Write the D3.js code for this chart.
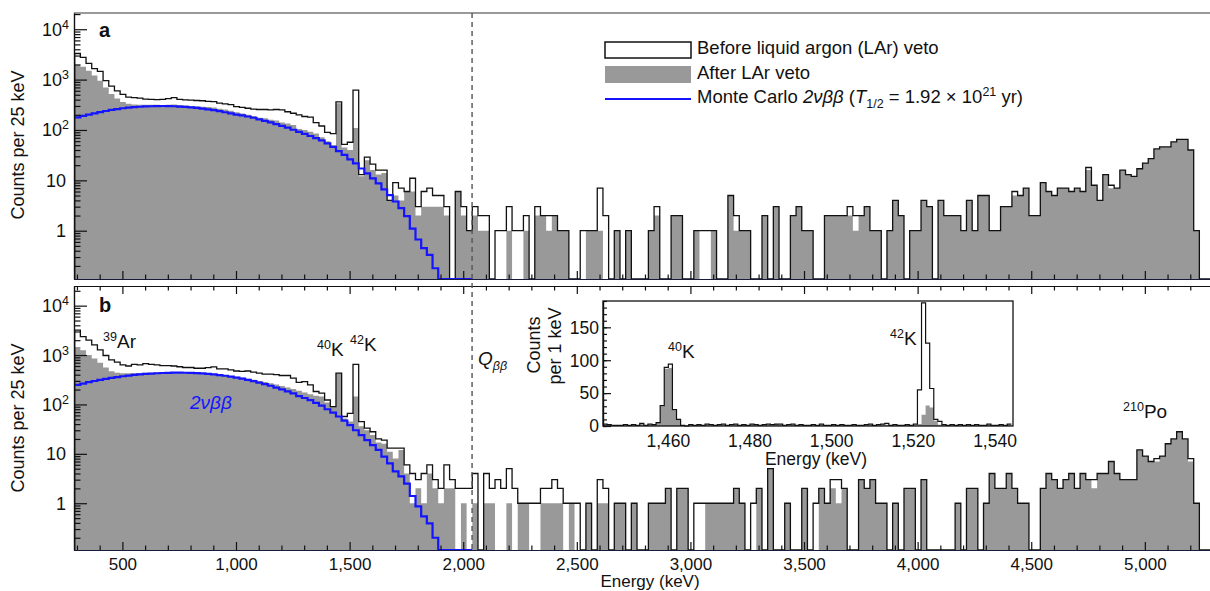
<!DOCTYPE html>
<html>
<head>
<meta charset="utf-8">
<title>Energy spectra before and after LAr veto</title>
<script src="https://d3js.org/d3.v7.min.js"></script>
<style>
  body { margin: 0; background: #fff; }
  svg text { font-family: "Liberation Sans", Arial, sans-serif; fill: #111; }
  .axis path, .axis line { stroke: #111; stroke-width: 1.2; }
  .axis.navy path { stroke: #1a1a3c; }
</style>
</head>
<body>
<div id="chart"></div>
<script>
// histogram binning (keV)
const binStart = 290, binWidth = 25;

// panel a: counts per 25 keV
const beforeA = [3300,2750,2100,1650,1450,950,740,600,510,450,
  440,430,410,405,400,405,420,440,405,395,
  390,385,380,370,365,340,330,320,290,280,
  270,260,255,255,250,255,250,230,215,200,
  185,180,140,120,90,85,360,52,57,620,
  13,29,21,16,16,4,9,7,6,11,
  3,6,7,5,5,3,0,6,3,1,
  3,2,2,0,1,1,3,1,1,2,
  0,3,2,2,2,1,1,0,0,1,
  1,1,7,2,0,1,0,1,0,0,
  0,1,3,0,0,2,2,0,0,1,
  1,1,1,0,0,5,2,1,1,0,
  0,2,0,3,0,0,2,3,1,1,
  0,0,2,2,2,2,3,2,2,3,
  1,1,0,1,4,2,0,1,1,4,
  3,0,4,2,2,2,1,4,1,5,
  5,1,1,3,3,6,5,7,2,2,
  9,6,5,7,7,6,7,6,18,8,
  4,13,8,7,16,13,12,17,22,27,
  42,46,46,58,65,65,40,1,0,0];

const afterA = [1950,1800,1500,1200,950,700,520,420,360,330,
  320,315,315,315,315,312,318,320,312,305,
  300,295,290,285,278,265,255,240,225,212,
  200,190,175,170,160,155,140,135,125,105,
  100,92,85,72,60,50,340,45,40,110,
  12,25,16,13,14,4,5,4,6,6,
  2,3,3,3,3,2,0,6,2,1,
  2,1,1,0,0,0,1,0,0,1,
  0,2,2,1,2,1,1,0,0,0,
  1,1,1,0,0,1,0,1,0,0,
  0,1,2,0,0,2,2,0,0,1,
  0,0,1,0,0,5,1,1,1,0,
  0,2,0,3,0,0,2,3,1,1,
  0,0,2,2,2,2,2,1,2,3,
  1,1,0,1,4,2,0,1,1,4,
  3,0,4,2,2,2,1,4,1,5,
  5,1,1,3,3,5,5,7,2,2,
  9,6,5,7,7,6,7,6,16,8,
  4,13,7,7,16,13,12,17,22,27,
  42,46,46,58,65,65,40,1,0,0];

const mcA = [178,190,202,214,226,238,250,260,270,278,
  284,289,293,296,298,299,298,296,292,287,
  281,274,266,257,247,236,225,213,201,195,
  185,175,163,152,142,131,121,111,101,92,
  84,76,69,62,54,46,38,32,26,21.7,
  17.2,13.7,10.9,8.7,6.6,5.1,3.8,2.8,1.95,1.1,
  0.67,0.45,0.33,0.18,0,0,0,0,0,0];

// panel b: counts per 25 keV
const beforeB = [3200,2350,2000,1600,1270,980,800,720,630,600,
  650,630,670,650,630,610,610,600,580,560,
  560,540,540,555,575,525,525,500,475,465,
  475,450,430,410,410,400,385,385,340,280,
  290,250,183,170,123,90,430,57,66,650,
  45,33,28,20,19,13,13,13,6,4,
  3,4,6,3,2,6,3,2,2,2,
  4,0,4,2,3,2,5,2,1,1,
  1,1,2,2,3,2,1,1,1,0,
  1,0,3,2,0,1,1,0,1,0,
  0,1,1,1,2,0,2,2,0,1,
  1,1,1,1,1,1,2,1,0,1,
  2,0,5,0,0,1,0,0,2,0,
  1,2,1,3,3,2,0,0,3,2,
  3,1,1,0,1,0,2,2,0,3,
  0,0,0,0,0,1,0,2,2,0,
  1,4,2,2,4,2,1,1,0,0,
  2,4,3,2,3,4,2,4,3,3,
  4,4,7,4,3,3,3,12,9,7,
  8,9,16,20,28,20,8,1,0,0];

const afterB = [1450,1250,1000,850,700,560,470,440,430,430,
  432,435,440,440,442,445,445,445,442,440,
  435,430,425,418,410,400,388,375,362,348,
  332,318,300,285,268,252,236,220,205,190,
  175,160,150,145,110,90,430,52,45,145,
  36,30,24,17,16,11,8,12,4,1,
  2,1,4,2,1,2,2,0,1,0,
  1,0,1,1,0,0,1,0,1,1,
  0,0,1,1,1,1,0,1,0,0,
  1,0,1,1,0,1,1,0,1,0,
  0,1,1,1,2,0,2,2,0,0,
  0,1,1,1,1,1,2,1,0,0,
  2,0,5,0,0,1,0,0,2,0,
  0,2,1,2,1,2,0,0,3,2,
  3,1,1,0,1,0,2,2,0,3,
  0,0,0,0,0,1,0,2,2,0,
  1,4,2,2,4,2,1,1,0,0,
  2,4,3,2,3,4,2,4,3,2,
  4,4,7,4,3,3,3,12,9,7,
  7,9,16,20,28,20,7,1,0,0];

const mcB = [250,265,282,298,314,330,345,358,372,384,
  395,405,414,422,428,433,437,439,440,438,
  435,430,424,416,406,394,381,366,350,333,
  315,296,277,258,239,220,202,184,167,148,
  135,122,108,95,80,68,57,47,38,30,
  24,19,15,12,8.8,6.4,4.4,3.5,2.5,1.4,
  0.86,0.54,0.39,0.2,0,0,0,0,0,0];

// inset: counts per 1 keV from 1444 keV
const insetStart = 1444;
const insetBefore = [3,2,1,1,1,2,1,2,1,4,
  1,3,2,5,31,89,94,25,10,1,
  0,2,1,2,1,3,2,1,2,3,
  1,2,3,1,2,1,3,2,1,2,
  3,2,3,3,1,2,3,1,2,1,
  1,2,1,3,1,1,2,1,2,1,
  1,2,1,1,2,3,1,2,3,4,
  1,2,1,1,2,1,3,55,187,126,
  57,10,7,2,1,2,1,2,1,2,
  1,2,1,1,3,1,1,2,1,3];
const insetAfter = [2,2,1,1,1,1,1,2,1,3,
  1,2,2,5,30,87,88,24,9,1,
  0,1,1,2,1,2,1,1,2,2,
  1,1,2,1,2,1,2,2,1,2,
  2,1,3,2,1,1,2,1,1,1,
  1,1,1,2,1,0,1,1,1,1,
  1,1,1,1,1,2,1,1,2,2,
  1,1,1,0,1,1,1,3,17,31,
  28,8,2,1,1,1,1,1,1,1,
  1,1,1,1,2,1,1,1,1,2];

const xMajor = [500,1000,1500,2000,2500,3000,3500,4000,4500,5000];
const xMinor = d3.range(300, 5301, 100).filter(v => v % 500 !== 0);
const yLabelValues = [1, 10, 100, 1000, 10000];
const insetXTicks = [1460, 1480, 1500, 1520, 1540];
const insetYTicks = [0, 50, 100, 150];
const qbb = 2039;

const svg = d3.select("#chart").append("svg")
  .attr("width", 1210).attr("height", 591);

const x = d3.scaleLinear().domain([287, 5300]).range([74, 1213]);
const yA = d3.scaleLog().domain([0.11, 21000]).range([279, 13]).clamp(true);
const yB = d3.scaleLog().domain([0.113, 25000]).range([550, 286]).clamp(true);

function steps(vals, start, width) {
  const pts = [];
  vals.forEach((v, i) => {
    const e = start + i * width;
    pts.push([e, v], [e + width, v]);
  });
  return pts;
}

const defs = svg.append("defs");

function drawPanel(y, before, after, mc, id) {
  const bottom = y.range()[0], top = y.range()[1];
  const yv = v => v > 0 ? y(v) : bottom;
  defs.append("clipPath").attr("id", id)
    .append("rect").attr("x", 74).attr("y", top).attr("width", 1140).attr("height", bottom - top);
  const g = svg.append("g").attr("clip-path", `url(#${id})`);

  g.append("path")
    .datum(steps(after, binStart, binWidth))
    .attr("fill", "#999")
    .attr("d", d3.area().x(d => x(d[0])).y0(bottom).y1(d => yv(d[1])));

  const outline = [[binStart, 0], ...steps(before, binStart, binWidth), [binStart + before.length * binWidth, 0]];
  g.append("path")
    .datum(outline)
    .attr("fill", "none").attr("stroke", "#111").attr("stroke-width", 1.3)
    .attr("d", d3.line().x(d => x(d[0])).y(d => yv(d[1])));

  g.append("path")
    .datum(steps(mc, binStart, binWidth))
    .attr("fill", "none").attr("stroke", "#1414ff").attr("stroke-width", 2.2)
    .attr("d", d3.line().x(d => x(d[0])).y(d => yv(d[1])));
}

drawPanel(yA, beforeA, afterA, mcA, "clipA");
drawPanel(yB, beforeB, afterB, mcB, "clipB");

// x axes: ticks pointing into each panel
function xTicks(yPos, dir, cls, labels) {
  svg.append("g").attr("class", "axis " + cls).attr("transform", `translate(0,${yPos})`)
    .call(d3.axisBottom(x).tickValues(xMinor).tickSize(4.5 * dir).tickSizeOuter(0).tickFormat(""));
  const major = svg.append("g").attr("class", "axis " + cls).attr("transform", `translate(0,${yPos})`)
    .call(d3.axisBottom(x).tickValues(xMajor).tickSize(8 * dir).tickSizeOuter(0)
      .tickPadding(8)
      .tickFormat(labels ? d3.format(",") : ""));
  major.selectAll("text").attr("font-size", 17).attr("fill", "#111");
}
xTicks(279, -1, "navy", false);
xTicks(286, 1, "", false);
xTicks(550, -1, "navy", true);

// panel a top frame
svg.append("line").attr("x1", 74).attr("x2", 1210).attr("y1", 13).attr("y2", 13)
  .attr("stroke", "#777").attr("stroke-width", 1.3);

function yAxis(y) {
  const [lo, hi] = y.domain();
  const minor = [], major = [];
  for (let k = -1; k <= 4; k++) {
    for (let m = 1; m <= 9; m++) {
      const v = m * Math.pow(10, k);
      if (v >= lo && v <= hi) (m === 1 ? major : minor).push(v);
    }
  }
  svg.append("g").attr("class", "axis").attr("transform", "translate(74,0)")
    .call(d3.axisLeft(y).tickValues(minor).tickSize(-6.5).tickSizeOuter(0).tickFormat(""));
  svg.append("g").attr("class", "axis").attr("transform", "translate(74,0)")
    .call(d3.axisLeft(y).tickValues(major).tickSize(-13).tickSizeOuter(0).tickFormat(""));

  yLabelValues.forEach(v => {
    const t = svg.append("text").attr("y", y(v)).attr("dy", "0.36em")
      .attr("text-anchor", "end").attr("font-size", 18);
    if (v < 100) {
      t.attr("x", 66).text(v);
    } else {
      t.attr("x", 69);
      t.append("tspan").text("10");
      t.append("tspan").attr("font-size", 12.5).attr("dy", -7).text(Math.round(Math.log10(v)));
    }
  });
}
yAxis(yA);
yAxis(yB);

// axis titles
function yTitle(cy) {
  svg.append("text").attr("transform", `translate(24,${cy}) rotate(-90)`)
    .attr("text-anchor", "middle").attr("font-size", 18).text("Counts per 25 keV");
}
yTitle(145);
yTitle(418);
svg.append("text").attr("x", 650).attr("y", 587).attr("text-anchor", "middle")
  .attr("font-size", 17).text("Energy (keV)");

// panel letters
svg.append("text").attr("x", 99).attr("y", 37).attr("font-size", 20).attr("font-weight", "bold").text("a");
svg.append("text").attr("x", 99).attr("y", 312).attr("font-size", 20).attr("font-weight", "bold").text("b");

// Q_bb line
svg.append("line").attr("x1", x(qbb)).attr("x2", x(qbb)).attr("y1", 13).attr("y2", 550)
  .attr("stroke", "#555").attr("stroke-width", 1.4).attr("stroke-dasharray", "5,4");

// legend
svg.append("rect").attr("x", 605).attr("y", 42).attr("width", 86).attr("height", 16)
  .attr("fill", "#fff").attr("stroke", "#111").attr("stroke-width", 1.5);
svg.append("rect").attr("x", 605).attr("y", 66).attr("width", 86).attr("height", 17)
  .attr("fill", "#999");
svg.append("line").attr("x1", 605).attr("x2", 691).attr("y1", 99).attr("y2", 99)
  .attr("stroke", "#1414ff").attr("stroke-width", 2);
svg.append("text").attr("x", 697).attr("y", 54).attr("font-size", 18.5).text("Before liquid argon (LAr) veto");
svg.append("text").attr("x", 697).attr("y", 79).attr("font-size", 18.5).text("After LAr veto");
const mcText = svg.append("text").attr("x", 697).attr("y", 103).attr("font-size", 18.5);
mcText.append("tspan").text("Monte Carlo ");
mcText.append("tspan").attr("font-style", "italic").text("2νββ");
mcText.append("tspan").text(" (");
mcText.append("tspan").attr("font-style", "italic").text("T");
mcText.append("tspan").attr("font-size", 12.5).attr("dy", 5).text("1/2");
mcText.append("tspan").attr("dy", -5).text(" = 1.92 × 10");
mcText.append("tspan").attr("font-size", 12.5).attr("dy", -7).text("21");
mcText.append("tspan").attr("dy", 7).text(" yr)");

// isotope annotations
function iso(px, py, mass, sym, size) {
  const t = svg.append("text").attr("x", px).attr("y", py).attr("font-size", size);
  t.append("tspan").attr("font-size", size * 0.66).attr("dy", -7).text(mass);
  t.append("tspan").attr("dy", 7).text(sym);
}
iso(103, 348, "39", "Ar", 19);
iso(317, 356, "40", "K", 19);
iso(350, 351, "42", "K", 19);
iso(1123, 418, "210", "Po", 19);

const q = svg.append("text").attr("x", 478).attr("y", 365).attr("font-size", 19).attr("font-style", "italic").attr("fill", "#222");
q.append("tspan").text("Q");
q.append("tspan").attr("font-size", 12.5).attr("dy", 5).text("ββ");

svg.append("text").attr("x", 190).attr("y", 409).attr("font-size", 19)
  .attr("font-style", "italic").style("fill", "#1414ff").text("2νββ");

// inset
const xi = d3.scaleLinear().domain([1444, 1544.4]).range([603, 1013]);
const yi = d3.scaleLinear().domain([0, 190]).range([426, 301]);
const gi = svg.append("g");
gi.append("rect").attr("x", 603).attr("y", 301).attr("width", 410).attr("height", 125).attr("fill", "#fff");
gi.append("path").datum(steps(insetAfter, insetStart, 1))
  .attr("fill", "#999")
  .attr("d", d3.area().x(d => xi(d[0])).y0(426).y1(d => yi(d[1])));
gi.append("path").datum(steps(insetBefore, insetStart, 1))
  .attr("fill", "none").attr("stroke", "#111").attr("stroke-width", 1.2)
  .attr("d", d3.line().x(d => xi(d[0])).y(d => yi(d[1])));
gi.append("rect").attr("x", 603).attr("y", 301).attr("width", 410).attr("height", 125)
  .attr("fill", "none").attr("stroke", "#111").attr("stroke-width", 1.3);
gi.append("g").attr("class", "axis").attr("transform", "translate(603,0)")
  .call(d3.axisLeft(yi).tickValues(d3.range(0, 191, 10)).tickSize(-4).tickSizeOuter(0).tickFormat(""));
gi.append("g").attr("class", "axis").attr("transform", "translate(603,0)")
  .call(d3.axisLeft(yi).tickValues(insetYTicks).tickSize(-8).tickSizeOuter(0).tickFormat(""));
insetYTicks.forEach(v => {
  gi.append("text").attr("x", 599).attr("y", yi(v)).attr("dy", "0.36em")
    .attr("text-anchor", "end").attr("font-size", 17.5).text(v);
});
insetXTicks.forEach(v => {
  gi.append("text").attr("x", xi(v)).attr("y", 447)
    .attr("text-anchor", "middle").attr("font-size", 17.5).text(d3.format(",")(v));
});
gi.append("text").attr("x", 816).attr("y", 465).attr("text-anchor", "middle")
  .attr("font-size", 17.5).text("Energy (keV)");
gi.append("text").attr("transform", "translate(540,345) rotate(-90)")
  .attr("text-anchor", "middle").attr("font-size", 18).text("Counts");
gi.append("text").attr("transform", "translate(561,346) rotate(-90)")
  .attr("text-anchor", "middle").attr("font-size", 18).text("per 1 keV");

const insetIso = (px, py, mass) => {
  const t = gi.append("text").attr("x", px).attr("y", py).attr("font-size", 19);
  t.append("tspan").attr("font-size", 12.5).attr("dy", -7).text(mass);
  t.append("tspan").attr("dy", 7).text("K");
};
insetIso(668, 358, "40");
insetIso(890, 345, "42");
</script>
</body>
</html>
